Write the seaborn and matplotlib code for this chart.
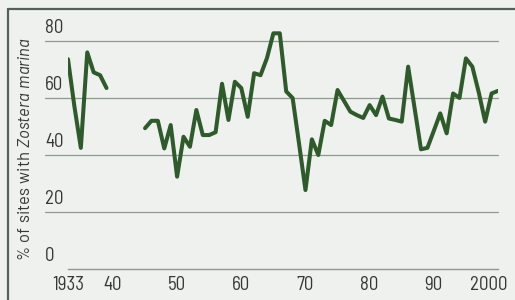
import pandas as pd
import matplotlib.pyplot as plt
import seaborn as sns
from matplotlib.lines import Line2D
from matplotlib.transforms import ScaledTranslation, blended_transform_factory

# Datos (% de sitios con Zostera marina)
anios_1 = [1933, 1934, 1935, 1936, 1937, 1938, 1939]
valores_1 = [73.6, 57.0, 42.5, 76.0, 69.0, 68.0, 63.5]

anios_2 = list(range(1945, 2001))
valores_2 = [49.4, 52.0, 52.0, 42.3, 50.5, 32.4, 46.4, 42.9, 55.8, 47.0,
             47.0, 48.0, 65.0, 52.3, 65.7, 63.5, 53.4, 68.7, 68.0, 74.0,
             82.7, 82.7, 62.3, 60.0, 44.0, 27.7, 45.5, 40.0, 52.0, 50.5,
             62.8, 59.0, 55.2, 54.0, 53.0, 57.5, 54.0, 60.5, 52.8, 52.3,
             51.7, 71.0, 56.5, 42.0, 42.5, 48.5, 54.6, 47.6, 61.6, 60.0,
             73.9, 71.0, 62.0, 51.7, 61.6, 62.5]

x_ticks = [1933, 1940, 1950, 1960, 1970, 1980, 1990, 2000]
x_labels = ['1933', '40', '50', '60', '70', '80', '90', '2000']
y_ticks = [0, 20, 40, 60, 80]

data = pd.DataFrame({
    'anio': anios_1 + anios_2,
    'valor': valores_1 + valores_2,
    'tramo': ['a'] * len(anios_1) + ['b'] * len(anios_2),
})

sns.set_style('white')
plt.rcParams['font.family'] = ['Barlow Semi Condensed', 'DejaVu Sans']
plt.rcParams['mathtext.fontset'] = 'custom'
plt.rcParams['mathtext.rm'] = 'Barlow'
plt.rcParams['mathtext.it'] = 'Barlow:italic'

fondo = '#eff1ef'
texto = '#333833'
fig = plt.figure(figsize=(5.15, 3.0), dpi=100, facecolor=fondo)
ax = fig.add_axes([68 / 515, 31 / 300, 430 / 515, 84 * 2.85 / 300])
ax.set_facecolor(fondo)

# Lineas de la cuadricula (se extienden bajo las etiquetas)
for v in y_ticks[1:]:
    ax.axhline(v, xmin=-23 / 430, xmax=1, color='#8e9a8e', lw=0.9,
               clip_on=False, zorder=1)

sns.lineplot(data=data, x='anio', y='valor', units='tramo', estimator=None,
             color='#2f5a2b', lw=2.9, ax=ax, zorder=3)

ax.set_xlim(1933, 2000)
ax.set_ylim(0, 84)
for s in ['top', 'right', 'left']:
    ax.spines[s].set_visible(False)
ax.spines['bottom'].set_color('#8e9a8e')
ax.spines['bottom'].set_linewidth(1.0)

ax.set_xticks(x_ticks)
ax.set_xticklabels(x_labels, fontsize=13.6, color=texto)
ax.tick_params(axis='x', direction='in', length=4, width=1,
               color='#8e9a8e', pad=5)
ult = ax.xaxis.get_ticklabels()[-1]
ult.set_transform(ult.get_transform()
                  + ScaledTranslation(-9 / 100, 0, fig.dpi_scale_trans))
ax.set_yticks([])

# Etiquetas del eje y sobre las lineas
trans = blended_transform_factory(ax.transAxes, ax.transData)
for v in y_ticks:
    ax.text(-23 / 430, v + 1.5, str(v), transform=trans, ha='left',
            va='bottom', fontsize=13.6, color=texto)

ax.set_xlabel('')
ax.set_ylabel(r'$\mathrm{\%\ of\ sites\ with}\ \mathit{Zostera\ marina}$',
              fontsize=12, color=texto)
ax.yaxis.set_label_coords(-35 / 430, 0.5)

# Marco
fig.add_artist(Line2D([8 / 515, 8 / 515], [0, 1 - 9 / 300],
                      color='#55605a', lw=1.6))
fig.add_artist(Line2D([8 / 515, 1], [1 - 9 / 300, 1 - 9 / 300],
                      color='#55605a', lw=1.6))

plt.savefig('out.png', dpi=100, facecolor=fondo)
